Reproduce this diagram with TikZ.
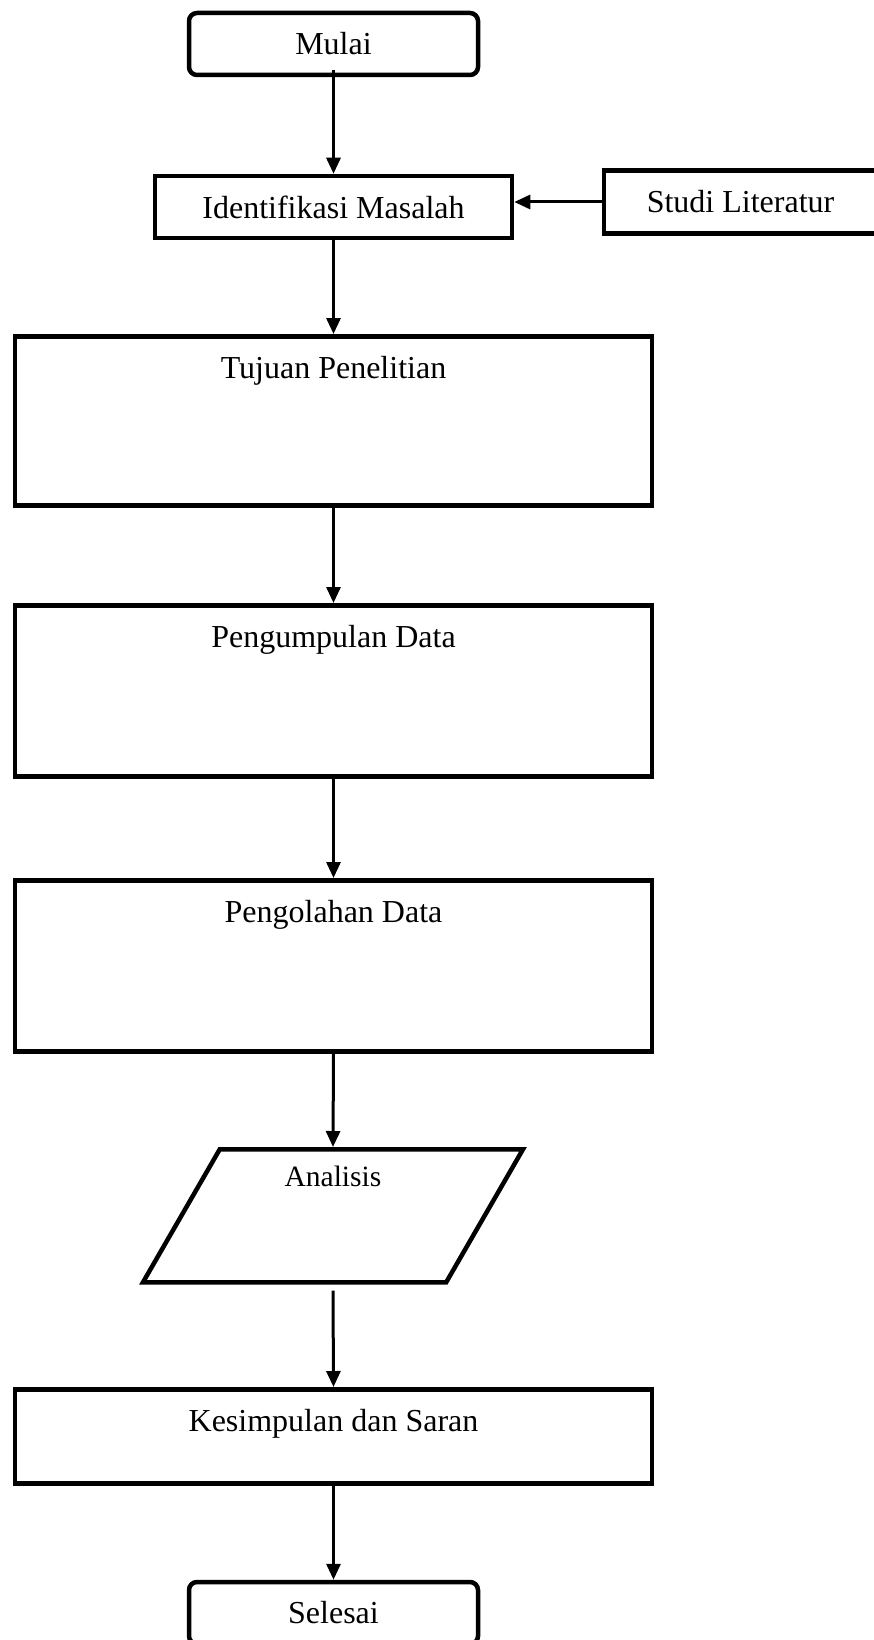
\documentclass[tikz,border=0pt]{standalone}
\usepackage{fontspec}
\setmainfont{Liberation Serif}
\usetikzlibrary{shapes.geometric,arrows.meta}

\begin{document}
\begin{tikzpicture}[x=1pt,y=-1pt,
		every node/.style = {font=\fontsize{32}{38}\selectfont, align=center},
		terminal/.style = {draw, line width=4.5pt, rounded corners=8pt,
			minimum width=289pt, minimum height=62pt},
		stepbox/.style = {draw, line width=4.5pt, minimum height=62pt},
		tallbox/.style = {draw, line width=4.5pt, anchor=north, minimum width=637pt,
			text height=22pt, inner ysep=20pt},
		iobox/.style = {draw, line width=4.5pt, shape=trapezium, anchor=north,
			trapezium left angle=60, trapezium right angle=120,
			trapezium stretches body, minimum width=380pt,
			font=\fontsize{29.5}{35}\selectfont,
			text height=19pt, text depth=78pt, inner ysep=18pt},
		flow/.style = {line width=3pt, -{Triangle[length=16pt,width=14pt]}}]

	\useasboundingbox (0,0) rectangle (874,1640);

	\node[terminal] (mulai) at (333.5,44) {Mulai};
	\node[stepbox, minimum width=357pt] (identifikasi) at (333.5,207) {Identifikasi Masalah};
	\node[stepbox, minimum width=273pt, minimum height=63pt] (studi) at (740.5,202) {Studi Literatur};
	\node[tallbox, text depth=107pt] (tujuan) at (333.5,334) {Tujuan Penelitian};
	\node[tallbox, text depth=109pt] (pengumpulan) at (333.5,603) {Pengumpulan Data};
	\node[tallbox, text depth=109pt] (pengolahan) at (333.5,878) {Pengolahan Data};
	\node[iobox] (analisis) at (333,1147) {Analisis};
	\node[tallbox, text depth=32pt] (kesimpulan) at (333.5,1387) {Kesimpulan dan Saran};
	\node[terminal] (selesai) at (333.5,1613) {Selesai};

	\draw[flow] ([yshift=7pt]mulai.south) -- (identifikasi.north);
	\draw[flow] (studi.west) -- (studi.west -| identifikasi.east);
	\draw[flow] (identifikasi.south) -- (tujuan.north);
	\draw[flow] (tujuan.south) -- (pengumpulan.north);
	\draw[flow] (pengumpulan.south) -- (pengolahan.north);
	\draw[flow] (pengolahan.south) -- (analisis.north);
	\draw[flow] ([yshift=-6pt]analisis.south) -- (kesimpulan.north);
	\draw[flow] (kesimpulan.south) -- (selesai.north);
\end{tikzpicture}
\end{document}
